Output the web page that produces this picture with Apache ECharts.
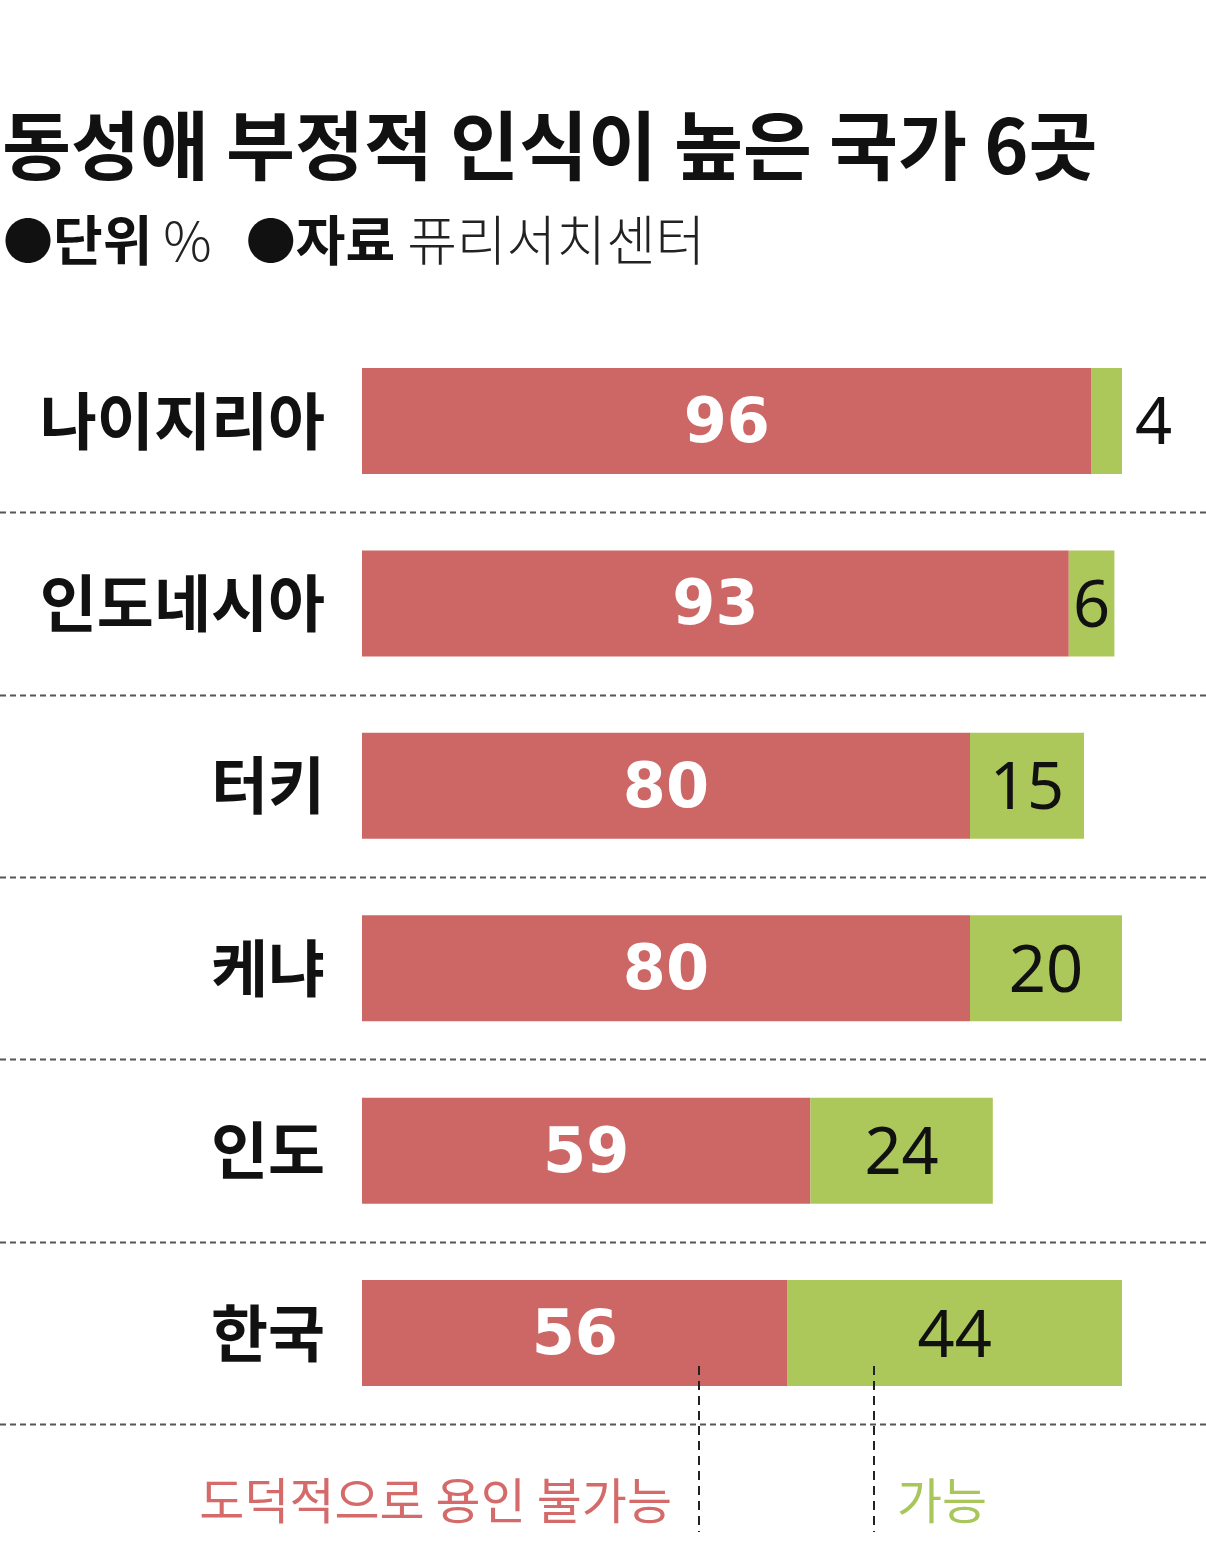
<!DOCTYPE html>
<html>
<head>
<meta charset="utf-8">
<script src="https://cdn.jsdelivr.net/npm/echarts@6/dist/echarts.min.js"></script>
<style>
  html, body { margin: 0; padding: 0; background: #fff; }
  #main { width: 1206px; height: 1553px; }
</style>
</head>
<body>
<div id="main"></div>
<script>
// data
const countries = ['나이지리아', '인도네시아', '터키', '케냐', '인도', '한국'];
const unacceptable = [96, 93, 80, 80, 59, 56];
const acceptable = [4, 6, 15, 20, 24, 44];

const RED = '#cd6766';
const GREEN = '#adc85a';
const KR = '"Noto Sans CJK KR", "Noto Sans", sans-serif';
const NUM = '"Noto Sans", "Noto Sans CJK KR", sans-serif';
const NUMB = '"DejaVu Sans", "Noto Sans", sans-serif';

let chart = echarts.init(document.getElementById('main'));

chart.setOption({
  animation: false,
  title: [
    {
      text: '동성애 부정적 인식이 높은 국가 6곳',
      left: -3,
      top: 98,
      textStyle: {
        fontFamily: KR,
        fontSize: 75,
        fontWeight: 'bold',
        color: '#111',
        lineHeight: 84
      }
    },
    {
      text: '{dot|●}{b|단위} {n|%}{dot2|●}{b|자료}{n2|퓨리서치센터}',
      left: -2,
      top: 204,
      textStyle: {
        rich: {
          dot: { fontFamily: KR, fontSize: 50, color: '#111', lineHeight: 62 },
          dot2: { fontFamily: KR, fontSize: 50, color: '#111', lineHeight: 62, padding: [0, 0, 0, 34] },
          b: { fontFamily: KR, fontSize: 54, fontWeight: 'bold', color: '#111', lineHeight: 62 },
          n: { fontFamily: KR, fontSize: 54, fontWeight: 300, color: '#222', lineHeight: 62, padding: [0, 0, 0, 6] },
          n2: { fontFamily: KR, fontSize: 54, fontWeight: 300, color: '#222', lineHeight: 62, padding: [0, 0, 0, 12] }
        }
      }
    }
  ],
  grid: {
    left: 362,
    right: 84,
    top: 329.75,
    bottom: 128.75
  },
  xAxis: {
    type: 'value',
    min: 0,
    max: 100,
    show: false
  },
  yAxis: {
    type: 'category',
    inverse: true,
    data: countries,
    axisLine: { show: false },
    axisTick: { show: false },
    splitLine: { show: false },
    axisLabel: {
      margin: 37,
      fontFamily: KR,
      fontSize: 62,
      fontWeight: 'bold',
      color: '#111'
    }
  },
  series: [
    {
      name: '도덕적으로 용인 불가능',
      type: 'bar',
      stack: 'total',
      barWidth: 106,
      itemStyle: { color: RED },
      label: {
        show: true,
        position: 'inside',
        offset: [0, 5],
        fontFamily: NUMB,
        fontSize: 62,
        fontWeight: 'bold',
        color: '#fff'
      },
      data: unacceptable
    },
    {
      name: '가능',
      type: 'bar',
      stack: 'total',
      barWidth: 106,
      itemStyle: { color: GREEN },
      label: {
        show: true,
        position: 'inside',
        offset: [0, 5],
        fontFamily: NUM,
        fontSize: 65,
        fontWeight: 'normal',
        color: '#111'
      },
      data: acceptable.map(function (v) {
        // too narrow to hold its number
        return v < 5 ? { value: v, label: { position: 'right', distance: 13 } } : v;
      })
    }
  ]
});

// row separators at band boundaries, plus the bottom callout
let c0 = chart.convertToPixel({ yAxisIndex: 0 }, countries[0]);
let c1 = chart.convertToPixel({ yAxisIndex: 0 }, countries[1]);
let band = c1 - c0;
let graphics = [];
countries.forEach(function (name) {
  let y = Math.round(chart.convertToPixel({ yAxisIndex: 0 }, name) + band / 2) + 0.5;
  graphics.push({
    type: 'line',
    shape: { x1: 0, y1: y, x2: 1206, y2: y },
    style: { stroke: '#555', lineWidth: 2, lineDash: [6, 4] }
  });
});
[699, 874].forEach(function (x) {
  graphics.push({
    type: 'line',
    z: 100,
    shape: { x1: x, y1: 1366, x2: x, y2: 1532 },
    style: { stroke: '#222', lineWidth: 2, lineDash: [9, 6] }
  });
});
graphics.push({
  type: 'text',
  style: {
    text: '도덕적으로 용인 불가능',
    x: 672,
    y: 1500,
    textAlign: 'right',
    textVerticalAlign: 'middle',
    fontFamily: KR,
    fontSize: 49,
    fill: '#d46a6a'
  }
});
graphics.push({
  type: 'text',
  style: {
    text: '가능',
    x: 897,
    y: 1500,
    textAlign: 'left',
    textVerticalAlign: 'middle',
    fontFamily: KR,
    fontSize: 49,
    fill: '#a8c65a'
  }
});
chart.setOption({ graphic: graphics });
</script>
</body>
</html>
